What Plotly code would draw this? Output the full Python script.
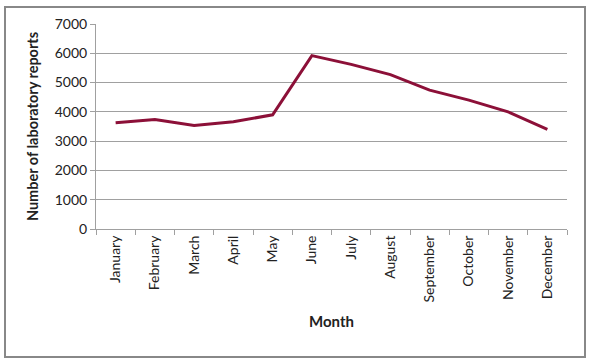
import plotly.graph_objects as go

months = ["January", "February", "March", "April", "May", "June", "July",
          "August", "September", "October", "November", "December"]
reports = [3630, 3740, 3535, 3660, 3900, 5920, 5620, 5270, 4740, 4400, 4000, 3400]
y_ticks = [0, 1000, 2000, 3000, 4000, 5000, 6000, 7000]

L, R, T, B = 96, 23, 24, 134
W, H = 590, 363
pw, ph = W - L - R, H - T - B

fig = go.Figure()
fig.add_trace(go.Scatter(x=months, y=reports, mode="lines",
                         line=dict(color="#8c1038", width=3), showlegend=False))

fontfam = "Lato, 'Noto Sans', sans-serif"
fig.update_layout(
    width=W, height=H,
    margin=dict(l=L, r=R, t=T, b=B, autoexpand=False),
    paper_bgcolor="white", plot_bgcolor="white",
    font=dict(family=fontfam, size=14, color="#222"),
    xaxis=dict(
        range=[-0.5, len(months) - 0.5], automargin=False,
        tickangle=-90, tickson="boundaries", ticks="outside", ticklen=5,
        tickcolor="#a0a0a0", showline=True, linecolor="#a0a0a0", linewidth=1,
        showgrid=False, tickfont=dict(size=14),
        title=dict(text="<b>Month</b>", font=dict(size=15), standoff=14),
    ),
    yaxis=dict(
        range=[0, 7000], tickvals=y_ticks, ticks="outside", ticklen=5, automargin=False,
        tickcolor="#a0a0a0", showline=True, linecolor="#a0a0a0", linewidth=1,
        showgrid=True, gridcolor="#a0a0a0", gridwidth=1, zeroline=False,
        tickfont=dict(size=14),
        title=dict(text="<b>Number of laboratory reports</b>", font=dict(size=14.5), standoff=12),
    ),
    shapes=[dict(type="rect", xref="paper", yref="paper",
                 x0=(5 - L) / pw, x1=(585 - L) / pw,
                 y0=(T + ph - 357) / ph, y1=(T + ph - 7) / ph,
                 line=dict(color="#888888", width=2), layer="below")],
)
fig.write_html("out.html", config={"displayModeBar": False},
               post_script="document.body.style.margin='0';document.body.style.overflow='hidden';")
